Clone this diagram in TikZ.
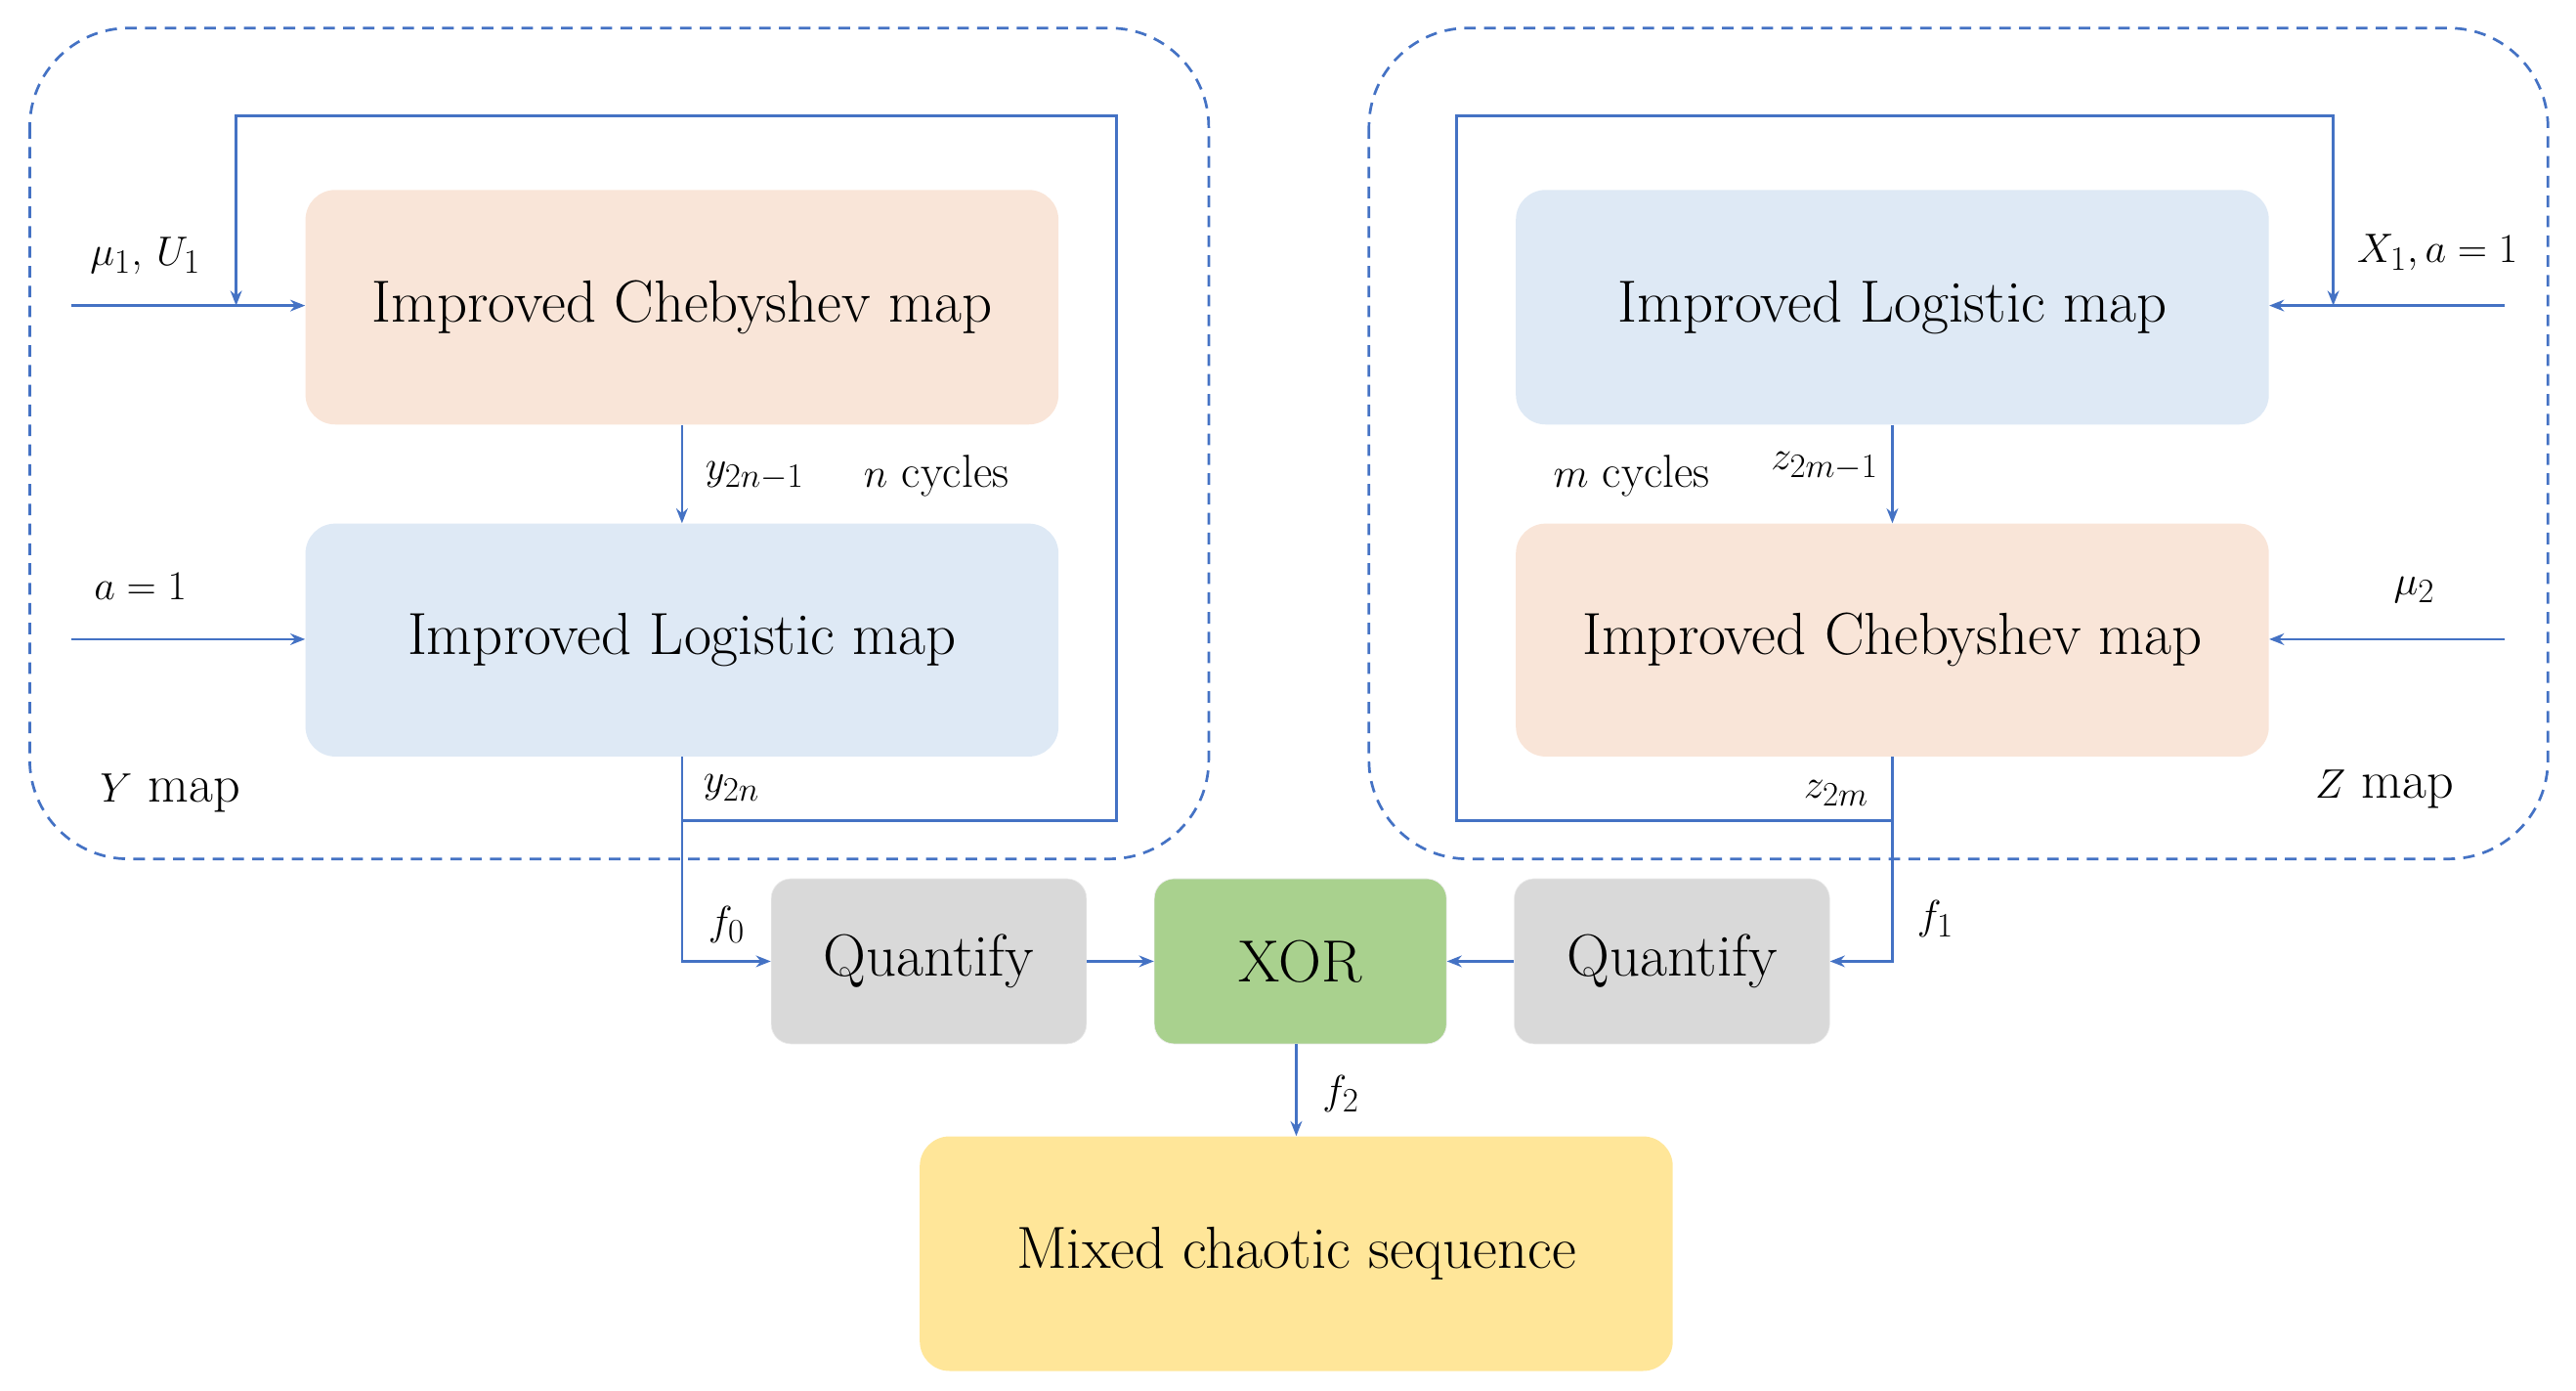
\documentclass[tikz,border=0pt]{standalone}
\usetikzlibrary{arrows.meta}
\definecolor{ln}{HTML}{4472C4}
\definecolor{peach}{HTML}{F9E5D8}
\definecolor{lblue}{HTML}{DEE9F5}
\definecolor{gry}{HTML}{D9D9D9}
\definecolor{grn}{HTML}{A9D18E}
\definecolor{yel}{HTML}{FFE699}
\begin{document}
\begin{tikzpicture}[x=1pt,y=-1pt,
  box/.style={rounded corners=18pt,inner sep=0pt,font=\fontsize{36}{40}\selectfont},
  qbox/.style={rounded corners=12pt,inner sep=0pt,font=\fontsize{36}{40}\selectfont,draw=white!85!gray},
  con/.style={draw=ln,line width=1.6pt},
  arr/.style={con,-{Stealth[length=9pt,width=7pt]}},
  lab/.style={font=\fontsize{28}{32}\selectfont,inner sep=0pt},
  dbox/.style={draw=ln,line width=1.6pt,dash pattern=on 7pt off 5pt,rounded corners=60pt}]
\useasboundingbox (0,0) rectangle (1560,842);
\draw[dbox] (18,17) rectangle (732,520);
\draw[dbox] (829,17) rectangle (1543,520);
\node[box,fill=peach,minimum width=456pt,minimum height=142pt] (c1) at (413,186) {Improved Chebyshev map};
\node[box,fill=lblue,minimum width=456pt,minimum height=141pt] (l1) at (413,387.5) {Improved Logistic map};
\node[box,fill=lblue,minimum width=456pt,minimum height=142pt] (l2) at (1146,186) {Improved Logistic map};
\node[box,fill=peach,minimum width=456pt,minimum height=141pt] (c2) at (1146,387.5) {Improved Chebyshev map};
\node[qbox,fill=gry,minimum width=191pt,minimum height=100pt] (q1) at (562.5,582) {Quantify};
\node[qbox,fill=grn,minimum width=177pt,minimum height=100pt] (x) at (787.5,582) {XOR};
\node[qbox,fill=gry,minimum width=191pt,minimum height=100pt] (q2) at (1012.5,582) {Quantify};
\node[box,fill=yel,minimum width=456pt,minimum height=142pt] (m) at (785,759) {Mixed chaotic sequence};
\coordinate (in1) at (43,185); \coordinate (in2) at (43,387);
\coordinate (in3) at (1517,185); \coordinate (in4) at (1517,387);
\coordinate (b1) at (413,497); \coordinate (b2) at (1146,497);
\coordinate (xo) at (785,632);
\draw[arr] (in1) -- (c1.west|-in1);
\draw[arr] (in2) -- (l1.west|-in2);
\draw[arr] (c1.south) -- (l1.north);
\draw[arr] (l1.south) -- (413,582) -- (q1.west);
\draw[arr] (b1) -- (676,497) -- (676,70) -- (143,70) -- (143,185);
\draw[arr] (in3) -- (l2.east|-in3);
\draw[arr] (in4) -- (c2.east|-in4);
\draw[arr] (l2.south) -- (c2.north);
\draw[arr] (c2.south) -- (1146,582) -- (q2.east);
\draw[arr] (b2) -- (882,497) -- (882,70) -- (1413,70) -- (1413,185);
\draw[arr] (q1.east) -- (x.west);
\draw[arr] (q2.west) -- (x.east);
\draw[arr] (xo) -- (xo|-m.north);
\node[lab] at (88,155) {$\mu_1$, $U_1$};
\node[lab] at (85,355) {$a=1$};
\node[lab] at (457,288) {$y_{2n-1}$};
\node[lab] at (567,288) {$n$ cycles};
\node[lab] at (443,477) {$y_{2n}$};
\node[lab] at (440,560) {$f_0$};
\node[lab] at (1476,153) {$X_1,a=1$};
\node[lab] at (988,288) {$m$ cycles};
\node[lab] at (1105,282) {$z_{2m-1}$};
\node[lab] at (1462,357) {$\mu_2$};
\node[lab] at (1112,480) {$z_{2m}$};
\node[lab] at (1172,556) {$f_1$};
\node[lab] at (812,662) {$f_2$};
\node[font=\fontsize{32}{36}\selectfont,inner sep=0pt] at (103,480) {$Y$ map};
\node[font=\fontsize{32}{36}\selectfont,inner sep=0pt] at (1444,478) {$Z$ map};
\end{tikzpicture}
\end{document}
